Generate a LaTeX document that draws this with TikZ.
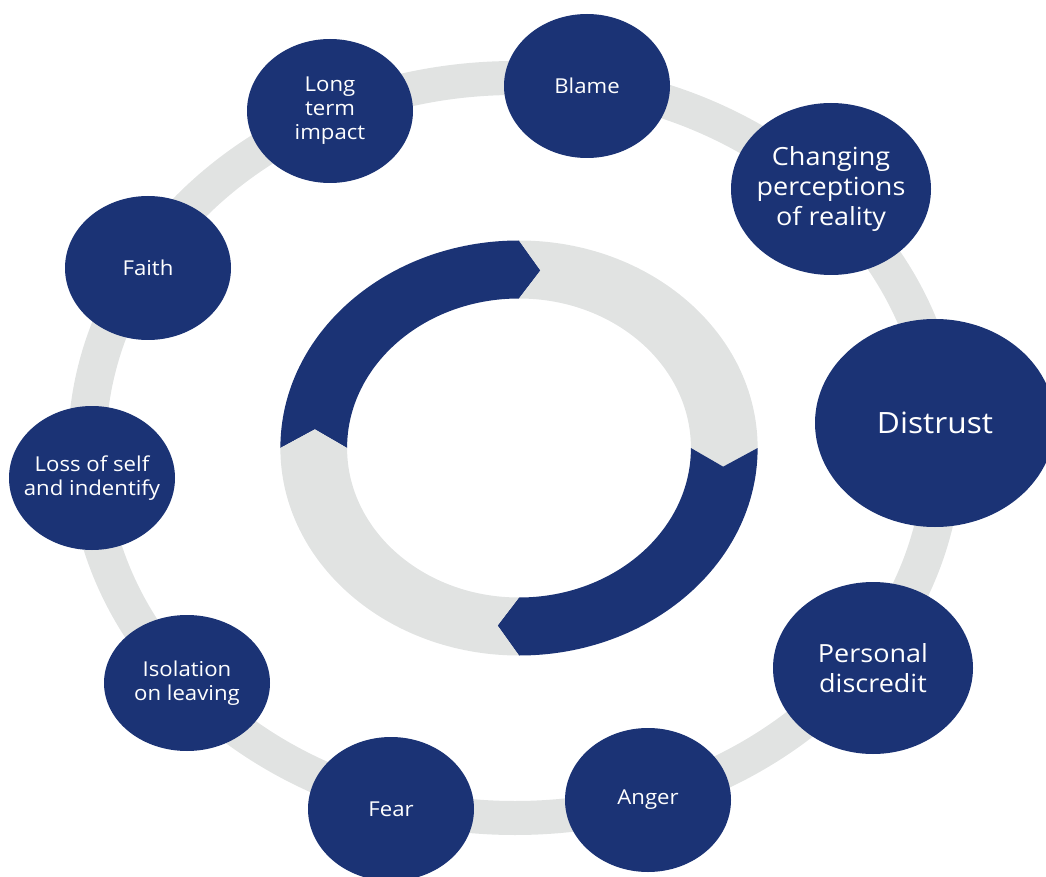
\documentclass[tikz,border=0pt]{standalone}
\usepackage{fontspec}
\setmainfont{Open Sans}[FakeStretch=1.08]
\usetikzlibrary{shapes.geometric}

\definecolor{navyblob}{RGB}{27,51,117}
\definecolor{ringgrey}{RGB}{225,227,226}

\tikzset{
  bubble/.style={ellipse, fill=navyblob, text=white, inner sep=-10pt, align=center,
    minimum width=124.5pt, minimum height=108pt, font=\fontsize{15.4}{18}\selectfont},
  bigbubble/.style={bubble, minimum width=150pt, minimum height=129pt,
    font=\fontsize{18.75}{22.5}\selectfont},
  hugebubble/.style={bubble, minimum width=180pt, minimum height=156pt,
    font=\fontsize{22}{26}\selectfont},
}

\begin{document}
\begin{tikzpicture}[x=0.75pt,y=0.75pt,yscale=-1,xscale=1]
\useasboundingbox (0,0) rectangle (1046,877);

%Outer ring
\fill [ringgrey, even odd rule] (515,448) ellipse [x radius=447, y radius=387] (515,448) ellipse [x radius=409, y radius=353];

%Inner ring arrows
\begin{scope}[shift={(519,448)}, xscale=1.15]
\fill [navyblob] (180:207.5) arc [start angle=180, end angle=270, radius=207.5] -- (276:178.5) -- (270:149.5) arc [start angle=270, end angle=180, radius=149.5] -- (186:178.5) -- cycle;
\fill [ringgrey] (270:207.5) arc [start angle=270, end angle=360, radius=207.5] -- (366:178.5) -- (360:149.5) arc [start angle=360, end angle=270, radius=149.5] -- (276:178.5) -- cycle;
\fill [navyblob] (0:207.5) arc [start angle=0, end angle=90, radius=207.5] -- (96:178.5) -- (90:149.5) arc [start angle=90, end angle=0, radius=149.5] -- (6:178.5) -- cycle;
\fill [ringgrey] (90:207.5) arc [start angle=90, end angle=180, radius=207.5] -- (186:178.5) -- (180:149.5) arc [start angle=180, end angle=90, radius=149.5] -- (96:178.5) -- cycle;
\end{scope}

% Text Node
\node [bubble] (longterm) at (330,111) {Long\\term\\impact};
% Text Node
\node [bubble] (blame) at (587,86) {Blame};
% Text Node
\node [bigbubble] (changing) at (831,189) {Changing\\perceptions\\of reality};
% Text Node
\node [hugebubble] (distrust) at (935,423) {Distrust};
% Text Node
\node [bigbubble] (discredit) at (873,668) {Personal\\discredit};
% Text Node
\node [bubble] (anger) at (648,800) {Anger};
% Text Node
\node [bubble] (fear) at (391,809) {Fear};
% Text Node
\node [bubble, minimum height=102pt] (isolation) at (187,683) {Isolation\\on leaving};
% Text Node
\node [bubble] (loss) at (92,478) {Loss of self\\and indentify};
% Text Node
\node [bubble] (faith) at (148,268) {Faith};

\end{tikzpicture}
\end{document}
